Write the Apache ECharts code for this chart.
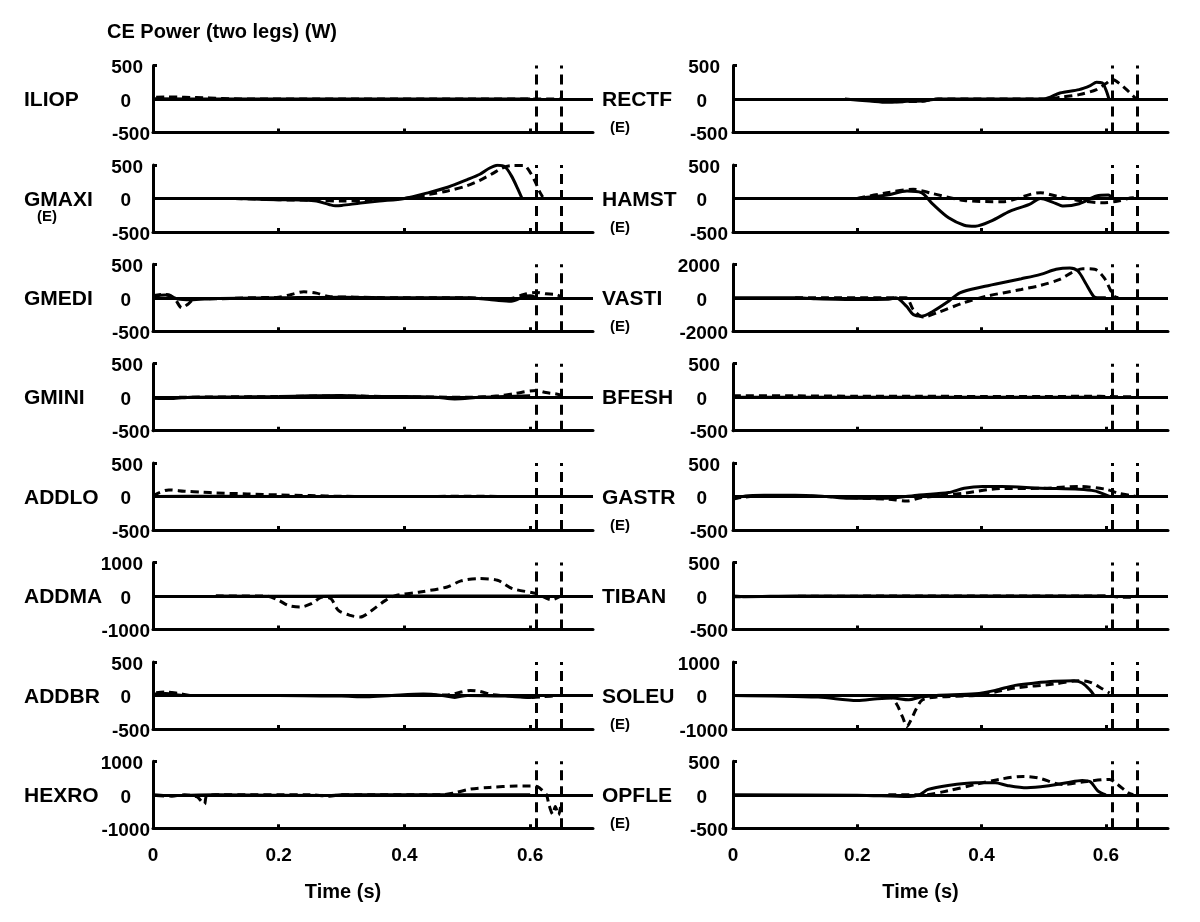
<!DOCTYPE html>
<html><head><meta charset="utf-8">
<script src="https://cdn.jsdelivr.net/npm/echarts@6/dist/echarts.min.js"></script>
<style>html,body{margin:0;padding:0;background:#fff}#c{width:1200px;height:922px}</style>
</head><body><div id="c"></div><script>
// ---------- data ----------
const CHART_TITLE = 'CE Power (two legs) (W)';
const X_NAME = 'Time (s)';
const TIME_TICKS = [0.2, 0.4, 0.6];
const TIME_LABELS = [0, 0.2, 0.4, 0.6];
const EVENT_TIMES = [0.608, 0.649];

const LEFT_MUSCLES = ['ILIOP', 'GMAXI', 'GMEDI', 'GMINI', 'ADDLO', 'ADDMA', 'ADDBR', 'HEXRO'];
const RIGHT_MUSCLES = ['RECTF', 'HAMST', 'VASTI', 'BFESH', 'GASTR', 'TIBAN', 'SOLEU', 'OPFLE'];
const LEFT_RANGES = [500, 500, 500, 500, 500, 1000, 500, 1000];
const RIGHT_RANGES = [500, 500, 2000, 500, 500, 500, 1000, 500];
const ECCENTRIC = ['GMAXI', 'RECTF', 'HAMST', 'VASTI', 'GASTR', 'SOLEU', 'OPFLE'];

// [time (s), power (W)]
const ILIOP_SOLID = [[0,5],[0.1,0],[0.3,0],[0.5,0],[0.6,0]];
const ILIOP_DASHED = [[0.005,25],[0.02,30],[0.04,28],[0.06,22],[0.08,20],[0.1,12],[0.12,5],[0.14,0],[0.3,0],[0.5,0],[0.649,0]];

const GMAXI_SOLID = [[0.13,0],[0.16,-10],[0.2,-20],[0.24,-25],[0.26,-40],[0.28,-90],[0.29,-110],[0.3,-105],[0.33,-70],[0.36,-40],[0.4,0],[0.44,90],[0.47,170],[0.5,280],[0.52,360],[0.535,450],[0.548,495],[0.56,470],[0.57,340],[0.58,150],[0.587,0]];
const GMAXI_DASHED = [[0.13,0],[0.2,-20],[0.26,-30],[0.3,-40],[0.34,-25],[0.4,0],[0.44,60],[0.47,115],[0.5,190],[0.52,270],[0.54,370],[0.555,450],[0.57,490],[0.59,490],[0.6,390],[0.608,250],[0.615,100],[0.62,20]];

const GMEDI_SOLID = [[0,20],[0.02,40],[0.04,-20],[0.06,-30],[0.1,-10],[0.2,0],[0.3,10],[0.4,0],[0.5,0],[0.55,-40],[0.57,-50],[0.59,20],[0.6,30],[0.608,10]];
const GMEDI_DASHED = [[0,30],[0.015,50],[0.025,45],[0.035,-20],[0.046,-150],[0.055,-100],[0.068,-10],[0.1,-15],[0.15,0],[0.2,10],[0.22,50],[0.24,90],[0.26,70],[0.28,20],[0.32,10],[0.4,0],[0.5,0],[0.55,-20],[0.57,-10],[0.59,50],[0.61,80],[0.625,60],[0.64,50],[0.649,20]];

const GMINI_SOLID = [[0,-15],[0.03,-20],[0.06,0],[0.15,5],[0.2,10],[0.25,20],[0.3,25],[0.35,10],[0.4,10],[0.45,0],[0.48,-25],[0.52,0],[0.56,10],[0.6,20]];
const GMINI_DASHED = [[0,-10],[0.05,0],[0.2,10],[0.3,20],[0.4,5],[0.5,0],[0.55,20],[0.575,55],[0.61,100],[0.625,70],[0.64,50],[0.649,30]];

const ADDLO_SOLID = [[0,0],[0.1,5],[0.3,0],[0.6,0]];
const ADDLO_DASHED = [[0,10],[0.01,60],[0.025,100],[0.05,80],[0.08,65],[0.1,55],[0.15,40],[0.2,25],[0.25,15],[0.3,5],[0.4,0],[0.5,5],[0.6,0],[0.649,0]];

const ADDMA_SOLID = [[0.1,0],[0.2,-10],[0.3,0],[0.4,0],[0.5,0],[0.6,0]];
const ADDMA_DASHED = [[0.1,0],[0.18,0],[0.2,-130],[0.215,-280],[0.234,-330],[0.252,-230],[0.27,-30],[0.283,-80],[0.295,-430],[0.314,-580],[0.33,-630],[0.348,-430],[0.37,-130],[0.388,20],[0.425,120],[0.468,270],[0.49,450],[0.517,520],[0.548,470],[0.572,220],[0.61,70],[0.634,-110],[0.649,0]];

const ADDBR_SOLID = [[0,20],[0.02,30],[0.05,0],[0.2,0],[0.3,-10],[0.34,-20],[0.38,0],[0.43,20],[0.46,0],[0.48,-30],[0.5,0],[0.56,-10],[0.6,-30],[0.608,-20]];
const ADDBR_DASHED = [[0.005,40],[0.02,50],[0.04,30],[0.06,0],[0.2,0],[0.4,0],[0.47,10],[0.49,50],[0.505,75],[0.52,60],[0.54,10],[0.58,-10],[0.6,-30],[0.62,-20],[0.649,0]];

const HEXRO_SOLID = [[0,0],[0.02,-20],[0.1,0],[0.28,-20],[0.3,0],[0.6,0]];
const HEXRO_DASHED = [[0.005,-20],[0.03,-40],[0.05,0],[0.07,-60],[0.075,-150],[0.082,-280],[0.085,-50],[0.1,0],[0.25,0],[0.28,-40],[0.3,0],[0.46,0],[0.48,60],[0.505,170],[0.535,220],[0.578,260],[0.6,260],[0.612,240],[0.62,120],[0.626,0],[0.63,-300],[0.636,-580],[0.64,-350],[0.645,-600],[0.649,-300]];

const RECTF_SOLID = [[0.18,0],[0.22,-30],[0.248,-50],[0.28,-35],[0.31,-25],[0.33,0],[0.5,0],[0.526,90],[0.557,140],[0.575,200],[0.585,250],[0.594,240],[0.6,140],[0.605,0]];
const RECTF_DASHED = [[0.22,-10],[0.26,-40],[0.3,-35],[0.33,0],[0.5,0],[0.53,30],[0.557,65],[0.585,140],[0.6,230],[0.61,290],[0.617,265],[0.632,150],[0.649,0]];

const HAMST_SOLID = [[0.2,0],[0.248,50],[0.28,110],[0.303,85],[0.322,-90],[0.347,-290],[0.372,-400],[0.39,-415],[0.415,-340],[0.446,-190],[0.477,-90],[0.495,0],[0.514,-55],[0.532,-115],[0.557,-80],[0.585,35],[0.604,50],[0.61,0]];
const HAMST_DASHED = [[0.2,0],[0.248,85],[0.29,135],[0.322,70],[0.372,-30],[0.433,-50],[0.495,85],[0.52,35],[0.557,-30],[0.594,-65],[0.62,-40],[0.644,10],[0.649,0]];

const VASTI_SOLID = [[0,0],[0.1,0],[0.13,-50],[0.2,-100],[0.25,-90],[0.262,0],[0.279,-500],[0.29,-1000],[0.303,-1100],[0.322,-800],[0.347,-200],[0.365,300],[0.402,660],[0.433,900],[0.464,1140],[0.495,1400],[0.52,1700],[0.542,1780],[0.555,1600],[0.567,900],[0.58,100],[0.586,0],[0.6,0]];
const VASTI_DASHED = [[0.1,0],[0.266,0],[0.279,0],[0.29,-700],[0.306,-1140],[0.328,-900],[0.371,-300],[0.409,100],[0.464,500],[0.495,740],[0.526,1100],[0.545,1500],[0.563,1740],[0.582,1700],[0.597,1200],[0.607,500],[0.613,100],[0.62,0]];

const BFESH_SOLID = [[0,0],[0.3,0],[0.6,0]];
const BFESH_DASHED = [[0,20],[0.1,20],[0.2,15],[0.3,15],[0.4,10],[0.5,10],[0.58,15],[0.6,10],[0.649,5]];

const GASTR_SOLID = [[0,-40],[0.02,10],[0.05,20],[0.1,20],[0.15,0],[0.186,-25],[0.248,-25],[0.3,25],[0.347,60],[0.372,125],[0.402,150],[0.433,150],[0.495,125],[0.557,110],[0.582,85],[0.6,25],[0.607,0]];
const GASTR_DASHED = [[0,-30],[0.05,15],[0.15,0],[0.2,-20],[0.25,-40],[0.28,-65],[0.3,-20],[0.34,20],[0.372,50],[0.43,120],[0.5,125],[0.557,150],[0.6,110],[0.62,50],[0.644,10],[0.649,0]];

const TIBAN_SOLID = [[0,0],[0.02,-10],[0.1,0],[0.6,0]];
const TIBAN_DASHED = [[0,-10],[0.3,0],[0.6,0],[0.62,-15],[0.64,-20],[0.649,0]];

const SOLEU_SOLID = [[0,0],[0.137,-50],[0.2,-150],[0.232,-100],[0.257,-80],[0.283,-130],[0.302,-50],[0.327,0],[0.39,50],[0.422,150],[0.454,300],[0.486,370],[0.517,420],[0.549,440],[0.562,370],[0.575,150],[0.581,0]];
const SOLEU_DASHED = [[0.1,0],[0.25,0],[0.263,-250],[0.273,-650],[0.28,-930],[0.286,-750],[0.295,-400],[0.305,-130],[0.327,-50],[0.39,0],[0.422,100],[0.454,220],[0.517,340],[0.556,440],[0.575,390],[0.594,200],[0.606,70]];

const OPFLE_SOLID = [[0,0],[0.2,-5],[0.283,-25],[0.3,0],[0.314,80],[0.346,140],[0.39,180],[0.422,180],[0.441,140],[0.473,105],[0.505,130],[0.537,180],[0.562,215],[0.575,195],[0.587,60],[0.6,0]];
const OPFLE_DASHED = [[0.25,0],[0.308,0],[0.346,60],[0.39,155],[0.428,230],[0.467,275],[0.492,250],[0.53,155],[0.57,200],[0.606,230],[0.619,155],[0.635,35],[0.644,0]];

// ---------- layout ----------
const SOLID = {ILIOP:ILIOP_SOLID,GMAXI:GMAXI_SOLID,GMEDI:GMEDI_SOLID,GMINI:GMINI_SOLID,ADDLO:ADDLO_SOLID,ADDMA:ADDMA_SOLID,ADDBR:ADDBR_SOLID,HEXRO:HEXRO_SOLID,
  RECTF:RECTF_SOLID,HAMST:HAMST_SOLID,VASTI:VASTI_SOLID,BFESH:BFESH_SOLID,GASTR:GASTR_SOLID,TIBAN:TIBAN_SOLID,SOLEU:SOLEU_SOLID,OPFLE:OPFLE_SOLID};
const DASHED = {ILIOP:ILIOP_DASHED,GMAXI:GMAXI_DASHED,GMEDI:GMEDI_DASHED,GMINI:GMINI_DASHED,ADDLO:ADDLO_DASHED,ADDMA:ADDMA_DASHED,ADDBR:ADDBR_DASHED,HEXRO:HEXRO_DASHED,
  RECTF:RECTF_DASHED,HAMST:HAMST_DASHED,VASTI:VASTI_DASHED,BFESH:BFESH_DASHED,GASTR:GASTR_DASHED,TIBAN:TIBAN_DASHED,SOLEU:SOLEU_DASHED,OPFLE:OPFLE_DASHED};

const COL_LEFT = [153, 733];
const COL_WIDTH = [440, 435];
const ROW_TOP0 = 65.5, ROW_PITCH = 99.4, ROW_H = 67;
const LABEL_X = [24, 602];
const E_X = [37, 610];
const E_DY = [18, 29];
const ZERO_PAD = [19, 21];
const MAX_PAD = [7, 8];
const LBL_MARGIN = [3, 5];
const FONT = '"Liberation Sans", Arial, sans-serif';

const grids = [], xAxes = [], yAxes = [], series = [], graphics = [];
graphics.push({type:'text', x:107, y:32, style:{text:CHART_TITLE, font:'bold 20px ' + FONT, fill:'#000', verticalAlign:'middle', textVerticalAlign:'middle'}});

const panels = [];
LEFT_MUSCLES.forEach((m, i) => panels.push({name:m, col:0, row:i, range:LEFT_RANGES[i]}));
RIGHT_MUSCLES.forEach((m, i) => panels.push({name:m, col:1, row:i, range:RIGHT_RANGES[i]}));

const axisLineStyle = {color:'#000', width:3};
panels.forEach((p, k) => {
  const top = ROW_TOP0 + p.row * ROW_PITCH;
  grids.push({left:COL_LEFT[p.col], top:top, width:COL_WIDTH[p.col], height:ROW_H, outerBoundsMode:'none'});
  const bottomRow = p.row === 7;
  xAxes.push({
    gridIndex:k, type:'value', min:0, max:0.7,
    axisLine:{show:true, onZero:false, lineStyle:axisLineStyle},
    axisTick:{show:true, inside:true, length:4, lineStyle:{color:'#000', width:3}, customValues:TIME_TICKS},
    axisLabel:{show:bottomRow, customValues:TIME_LABELS, margin:18, fontSize:19, fontWeight:'bold', color:'#000', fontFamily:FONT},
    splitLine:{show:false},
    name: bottomRow ? X_NAME : '', nameLocation:'middle', nameGap:54,
    nameTextStyle:{fontSize:20, fontWeight:'bold', color:'#000', fontFamily:FONT, padding:[0, 60, 0, 0]}
  });
  const base = {fontSize:19, fontWeight:'bold', color:'#000', fontFamily:FONT};
  yAxes.push({
    gridIndex:k, type:'value', min:-p.range, max:p.range, interval:p.range,
    axisLine:{show:true, onZero:false, lineStyle:axisLineStyle},
    axisTick:{show:true, inside:true, length:4, lineStyle:{color:'#000', width:3}},
    splitLine:{show:false},
    axisLabel:{
      margin:LBL_MARGIN[p.col], ...base,
      formatter: v => v === 0 ? '{z|0}' : (v > 0 ? '{p|' + v + '}' : '{n|' + v + '}'),
      rich:{
        z:Object.assign({padding:[5, ZERO_PAD[p.col], 0, 0]}, base),
        p:Object.assign({padding:[5, MAX_PAD[p.col], 0, 0]}, base),
        n:Object.assign({padding:[5, 0, 0, 0]}, base)
      }
    }
  });
  series.push({
    type:'line', xAxisIndex:k, yAxisIndex:k, data:SOLID[p.name], symbol:'none', showSymbol:false,
    smooth:0.3, silent:true, animation:false, lineStyle:{color:'#000', width:3}, emphasis:{disabled:true}, z:3,
    markLine:{silent:true, animation:false, symbol:['none','none'], label:{show:false}, emphasis:{disabled:true},
      lineStyle:{color:'#000', width:3, type:'solid'}, data:[{yAxis:0}]}
  });
  series.push({
    type:'line', xAxisIndex:k, yAxisIndex:k, data:DASHED[p.name], symbol:'none', showSymbol:false,
    smooth:0.3, silent:true, animation:false, lineStyle:{color:'#000', width:3, type:[8,5]}, emphasis:{disabled:true}, z:3,
    markLine:{silent:true, animation:false, symbol:['none','none'], label:{show:false}, emphasis:{disabled:true},
      lineStyle:{color:'#000', width:3, type:[10,6]}, data:EVENT_TIMES.map(t => ({xAxis:t}))}
  });
  const zeroY = top + ROW_H / 2;
  graphics.push({type:'text', x:LABEL_X[p.col], y:zeroY + 1.5,
    style:{text:p.name, font:'bold 21px ' + FONT, fill:'#000', verticalAlign:'middle', textVerticalAlign:'middle'}});
  if (ECCENTRIC.includes(p.name)) {
    graphics.push({type:'text', x:E_X[p.col], y:zeroY + E_DY[p.col],
      style:{text:'(E)', font:'bold 15px ' + FONT, fill:'#000', verticalAlign:'middle', textVerticalAlign:'middle'}});
  }
});

const chart = echarts.init(document.getElementById('c'), null, {renderer:'canvas'});
chart.setOption({
  animation:false, backgroundColor:'#fff',
  grid:grids, xAxis:xAxes, yAxis:yAxes, series:series, graphic:graphics
});
</script></body></html>
